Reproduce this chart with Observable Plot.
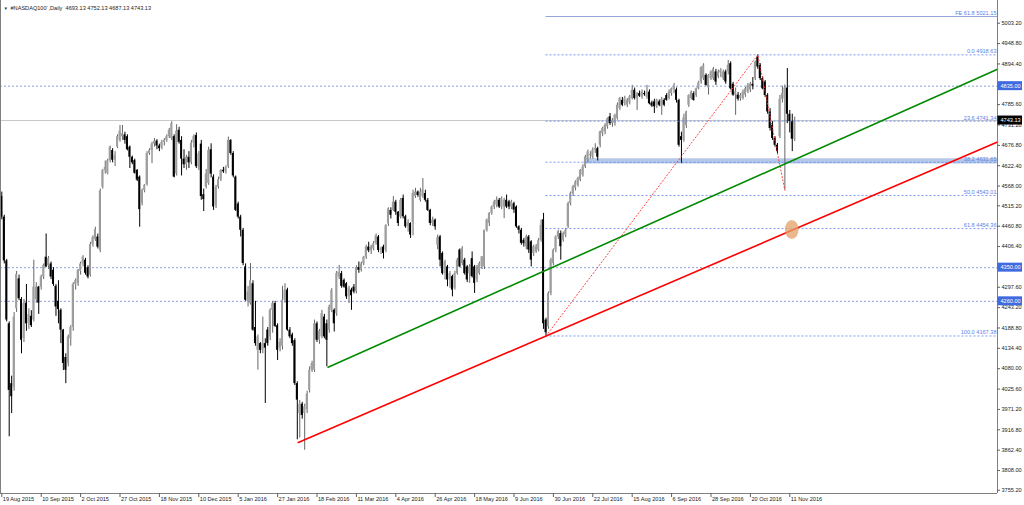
<!DOCTYPE html>
<html><head><meta charset="utf-8">
<script src="https://cdn.jsdelivr.net/npm/d3@7"></script>
<script src="https://cdn.jsdelivr.net/npm/@observablehq/plot@0.6"></script>
<style>
html,body{margin:0;padding:0;background:#fff;}
#chart{width:1024px;height:505px;overflow:hidden;}
#chart svg{font-family:"Liberation Sans",Arial,sans-serif;}
</style></head><body><div id="chart"></div>
<script>
const headerText = "#NASDAQ100`,Daily  4693.13 4752.13 4687.13 4743.13";

// Daily OHLC, one entry per bar (bar index = position)
const open = [4540,4485,4368,4200,4040,4031,4240,4320,4265,4160,4255,4200,4220,4210,4265,4298,4298,4325,4378,4355,4360,4343,4300,4260,4236,4183,4110,4094,4160,4190,4305,4307,4340,4360,4370,4350,4330,4412,4425,4432,4396,4565,4610,4602,4636,4663,4637,4672,4690,4700,4705,4700,4672,4645,4636,4610,4592,4521,4556,4572,4655,4663,4680,4688,4675,4670,4685,4690,4700,4695,4700,4600,4717,4690,4640,4625,4645,4630,4683,4703,4619,4680,4545,4565,4575,4665,4592,4515,4565,4585,4610,4606,4620,4690,4655,4592,4520,4485,4450,4352,4260,4254,4307,4190,4129,4147,4129,4147,4183,4165,4236,4254,4195,4135,4140,4263,4290,4183,4170,4155,4040,3960,3985,3960,3970,4022,4076,4076,4200,4156,4165,4218,4200,4183,4236,4236,4227,4325,4334,4316,4307,4272,4290,4298,4285,4350,4343,4360,4378,4405,4395,4400,4414,4432,4396,4405,4396,4467,4503,4503,4525,4498,4485,4535,4486,4460,4468,4470,4540,4552,4530,4540,4548,4530,4503,4468,4477,4410,4432,4388,4334,4352,4317,4326,4295,4334,4397,4361,4370,4352,4334,4374,4352,4317,4334,4352,4352,4450,4468,4495,4512,4517,4530,4512,4512,4530,4526,4512,4521,4512,4459,4450,4423,4406,4432,4419,4388,4392,4397,4423,4478,4210,4192,4281,4361,4397,4432,4441,4423,4437,4459,4521,4548,4562,4570,4584,4597,4619,4637,4650,4646,4664,4668,4677,4708,4713,4726,4753,4735,4735,4748,4775,4797,4788,4784,4790,4802,4824,4802,4815,4806,4815,4806,4819,4790,4793,4780,4793,4780,4797,4810,4802,4815,4825,4825,4797,4700,4690,4730,4784,4802,4815,4810,4828,4846,4855,4864,4830,4855,4855,4873,4860,4870,4855,4873,4873,4895,4840,4811,4811,4802,4802,4811,4819,4824,4840,4855,4912,4890,4855,4846,4810,4766,4730,4695,4677,4700,4800,4800,4830,4760,4740,4693.13];
const high = [4552,4490,4372,4205,4060,4230,4340,4330,4270,4265,4305,4240,4235,4370,4310,4300,4330,4360,4440,4380,4365,4350,4305,4315,4240,4185,4120,4170,4195,4310,4320,4345,4365,4382,4375,4355,4418,4435,4458,4440,4560,4612,4635,4640,4675,4668,4660,4705,4730,4730,4712,4705,4675,4648,4640,4612,4595,4560,4572,4660,4668,4685,4695,4692,4680,4690,4695,4705,4722,4740,4705,4732,4725,4700,4665,4650,4660,4690,4705,4710,4660,4690,4560,4612,4672,4681,4598,4570,4592,4612,4618,4622,4699,4692,4660,4595,4525,4490,4455,4360,4300,4361,4315,4260,4170,4150,4218,4160,4190,4240,4260,4260,4200,4160,4300,4307,4295,4190,4175,4160,4045,3995,3990,3985,4020,4085,4100,4210,4205,4185,4236,4225,4210,4250,4294,4240,4340,4356,4340,4320,4310,4300,4295,4305,4355,4365,4365,4380,4410,4418,4410,4420,4440,4436,4405,4410,4465,4510,4510,4540,4530,4500,4535,4544,4490,4478,4470,4557,4562,4555,4562,4588,4557,4535,4506,4485,4480,4437,4436,4392,4370,4356,4340,4330,4340,4375,4400,4406,4375,4356,4358,4392,4356,4356,4365,4380,4450,4480,4497,4515,4530,4539,4535,4539,4535,4544,4530,4530,4525,4515,4462,4455,4428,4437,4436,4422,4410,4412,4428,4477,4495,4215,4285,4375,4400,4435,4450,4448,4445,4455,4525,4552,4570,4582,4592,4612,4625,4650,4664,4660,4670,4681,4672,4715,4725,4735,4750,4762,4748,4760,4790,4805,4805,4808,4802,4810,4837,4830,4818,4822,4825,4822,4837,4825,4795,4800,4800,4798,4805,4802,4815,4825,4830,4842,4830,4800,4712,4760,4768,4812,4822,4820,4830,4848,4887,4895,4868,4866,4876,4885,4880,4878,4882,4878,4878,4904,4900,4845,4830,4818,4815,4825,4832,4842,4845,4858,4902,4918.63,4895,4860,4850,4815,4775,4740,4700,4682,4810,4835,4838,4882,4770,4760,4752.13];
const low = [4478,4360,4205,3898,3960,4020,4230,4262,4120,4150,4180,4185,4190,4205,4255,4225,4290,4318,4350,4345,4318,4300,4220,4200,4147,4075,4040,4085,4140,4180,4290,4300,4330,4352,4330,4320,4325,4405,4420,4400,4390,4560,4600,4598,4630,4630,4620,4668,4685,4690,4680,4662,4615,4625,4600,4580,4458,4515,4550,4568,4650,4628,4672,4665,4660,4665,4675,4685,4695,4690,4590,4595,4680,4595,4615,4610,4615,4625,4670,4615,4610,4530,4500,4560,4570,4590,4503,4508,4560,4580,4602,4600,4615,4650,4590,4500,4480,4432,4355,4260,4245,4250,4180,4140,4076,4120,4120,3987,4140,4155,4175,4190,4102,4125,4130,4255,4180,4160,4140,4035,3890,3895,3945,3862,3960,4015,4070,4070,4150,4145,4160,4160,4085,4175,4230,4178,4220,4318,4295,4295,4265,4254,4236,4280,4280,4335,4338,4355,4372,4390,4385,4395,4410,4390,4385,4373,4390,4460,4480,4500,4490,4460,4480,4480,4455,4445,4428,4435,4535,4538,4525,4535,4525,4500,4462,4460,4450,4398,4352,4330,4317,4299,4295,4272,4290,4330,4350,4355,4330,4310,4308,4322,4281,4310,4330,4345,4345,4445,4460,4490,4505,4510,4508,4505,4481,4508,4505,4505,4495,4455,4440,4410,4405,4398,4388,4352,4380,4388,4392,4418,4185,4167.38,4185,4275,4355,4390,4425,4370,4418,4430,4455,4515,4540,4555,4565,4580,4592,4615,4630,4640,4640,4655,4635,4670,4700,4705,4720,4730,4725,4728,4744,4770,4780,4782,4778,4785,4798,4798,4770,4805,4800,4808,4800,4785,4778,4762,4775,4780,4757,4780,4795,4798,4808,4815,4790,4672,4628,4685,4722,4778,4798,4795,4805,4825,4840,4850,4835,4811,4850,4850,4837,4855,4858,4850,4840,4865,4825,4808,4757,4795,4795,4798,4805,4815,4818,4825,4850,4880,4850,4825,4805,4760,4715,4690,4672,4655,4695,4790,4556.85,4735,4710,4660,4687.13];
const close = [4485,4368,4210,4022,4005,4218,4332,4267,4156,4255,4200,4225,4195,4298,4298,4255,4325,4356,4352,4375,4325,4305,4245,4238,4183,4094,4076,4165,4190,4305,4316,4343,4360,4378,4335,4325,4412,4430,4452,4405,4555,4610,4618,4636,4672,4637,4650,4700,4715,4708,4690,4665,4645,4630,4602,4584,4505,4556,4570,4655,4663,4680,4688,4675,4668,4685,4690,4700,4717,4735,4592,4715,4685,4640,4625,4645,4630,4683,4700,4620,4654,4540,4532,4600,4663,4600,4512,4565,4585,4610,4606,4617,4690,4655,4595,4503,4485,4450,4361,4263,4285,4315,4183,4147,4165,4129,4147,4135,4147,4236,4254,4193,4129,4150,4263,4290,4183,4165,4147,4040,3996,3985,3955,3978,4012,4076,4094,4200,4156,4180,4227,4165,4156,4245,4289,4200,4334,4338,4300,4298,4272,4295,4275,4285,4350,4343,4360,4378,4405,4395,4405,4414,4435,4396,4400,4388,4462,4507,4490,4525,4498,4468,4530,4486,4459,4470,4437,4548,4552,4543,4552,4557,4530,4503,4468,4477,4459,4430,4370,4334,4365,4317,4334,4290,4334,4370,4352,4401,4334,4317,4352,4326,4308,4352,4361,4379,4450,4477,4495,4512,4525,4530,4512,4535,4530,4512,4512,4526,4504,4459,4450,4415,4414,4432,4397,4370,4406,4406,4423,4463,4200,4176,4281,4370,4397,4432,4446,4406,4441,4450,4521,4548,4566,4579,4588,4610,4619,4646,4659,4650,4664,4668,4645,4713,4722,4730,4748,4735,4744,4757,4784,4802,4784,4802,4797,4806,4824,4802,4815,4808,4819,4812,4819,4788,4782,4780,4797,4784,4800,4784,4797,4819,4828,4832,4797,4677,4690,4750,4766,4810,4819,4797,4828,4844,4884,4890,4837,4864,4873,4881,4846,4873,4877,4873,4846,4891,4828,4811,4820,4800,4810,4819,4828,4837,4841,4835,4899,4886,4855,4828,4810,4766,4722,4695,4677,4660,4800,4815,4830,4760,4740,4693.13,4743.13];

// bottom axis: bar index of each label and its text
const xTickBars = [0,16,32,48,64,80,96,112,128,144,160,176,192,208,224,240,256,272,288,304,320];
const xTickLabels = ["19 Aug 2015","10 Sep 2015","2 Oct 2015","27 Oct 2015","18 Nov 2015","10 Dec 2015","5 Jan 2016","27 Jan 2016","18 Feb 2016","11 Mar 2016","4 Apr 2016","26 Apr 2016","18 May 2016","9 Jun 2016","30 Jun 2016","22 Jul 2016","15 Aug 2016","6 Sep 2016","28 Sep 2016","20 Oct 2016","11 Nov 2016"];
// right axis
const yTickValues = [5003.20,4948.80,4894.40,4785.60,4731.20,4676.80,4622.40,4568.00,4515.20,4460.80,4406.40,4297.60,4243.20,4188.80,4134.40,4080.00,4025.60,3971.20,3916.80,3862.40,3808.00,3755.20];

// Fibonacci retracement (from the 27 Jun low to the 25 Oct high)
const fibLevels = [0.0, 23.6, 38.2, 50.0, 61.8, 100.0];
const fibPrices = [4918.63, 4741.34, 4631.65, 4543.01, 4454.36, 4167.38];
const fibStartBar = 221;
const feLevel = 61.8, fePrice = 5021.15;
const fiboPathBars = [221, 307, 318];
const fiboPathPrices = [4167.38, 4918.63, 4556.85];

// horizontal levels and current price
const hLevels = [4835.00, 4350.00, 4260.00];
const currentPrice = 4743.13;

// trend lines: anchor bars / prices
const redBars = [120.4, 221], redPrices = [3883, 4167.38];
const greenBars = [132.5, 404.35], greenPrices = [4084, 4880];

// support zone and highlight
const zoneStartBar = 237.5, zoneLow = 4627, zoneHigh = 4641;
const markBar = 320.8, markPrice = 4452;

// ---------- build ----------
const xMin = -0.53, xMax = 404.35;
const yMin = 3746.5, yMax = 5063.9;
const bars = close.map((c, i) => ({i, o: open[i], h: high[i], l: low[i], c, up: c >= open[i]}));
const extend = (bs, ps, x) => ps[0] + (ps[1] - ps[0]) * (x - bs[0]) / (bs[1] - bs[0]);
const redLine = [{b: redBars[0], p: redPrices[0]}, {b: xMax, p: extend(redBars, redPrices, xMax)}];
const greenLine = greenBars.map((b, k) => ({b, p: greenPrices[k]}));
const fib = fibLevels.map((l, k) => ({label: `${l.toFixed(1)} ${fibPrices[k].toFixed(2)}`, p: fibPrices[k]}));
const fiboPath = fiboPathBars.map((b, k) => ({b, p: fiboPathPrices[k]}));
const xTicks = xTickBars.map((b, k) => ({b, label: xTickLabels[k]}));
const boxes = [...hLevels.map(p => ({p, fill: "#3f6ae0"})), {p: currentPrice, fill: "#000"}];
const FS = 5.6;
const blue = "#5d7fe6";
const pxY = (yMax - yMin) / 493; // price per pixel
const pxX = (xMax - xMin) / 997; // bars per pixel

const chart = Plot.plot({
  width: 1024, height: 505,
  marginLeft: 0, marginRight: 27, marginTop: 0, marginBottom: 12,
  x: {domain: [xMin, xMax], axis: null},
  y: {domain: [yMin, yMax], axis: null},
  marks: [
    Plot.ruleY([currentPrice], {stroke: "#c8c8c8", strokeWidth: 1}),
    Plot.ruleY(hLevels, {stroke: "#6f88d8", strokeDasharray: "2,2", strokeWidth: 0.8}),
    Plot.rect([0], {x1: zoneStartBar, x2: xMax, y1: zoneLow, y2: zoneHigh, fill: "#b5c8e8"}),
    Plot.ruleX(bars, {x: "i", y1: "l", y2: "h", stroke: d => d.up ? "#666" : "#000", strokeWidth: 1}),
    Plot.rect(bars, {x1: d => d.i - 0.4, x2: d => d.i + 0.4, y1: d => Math.min(d.o, d.c), y2: d => Math.max(d.o, d.c, Math.min(d.o, d.c) + pxY * 0.8), fill: d => d.up ? "#9e9e9e" : "#000"}),
    Plot.ruleY(fib, {y: "p", x1: fibStartBar, x2: xMax, stroke: blue, strokeDasharray: "2,2", strokeWidth: 0.8}),
    Plot.ruleY([fePrice], {x1: fibStartBar, x2: xMax, stroke: "#8a98d2", strokeWidth: 0.9}),
    Plot.line(fiboPath, {x: "b", y: "p", stroke: "#ff3030", strokeDasharray: "1.2,2.2", strokeWidth: 0.9}),
    Plot.line(greenLine, {x: "b", y: "p", stroke: "#008a00", strokeWidth: 1.6}),
    Plot.line(redLine, {x: "b", y: "p", stroke: "#ff0000", strokeWidth: 1.6}),
    Plot.dot([0], {x: markBar, y: markPrice, r: 8, fill: "#e2a066", fillOpacity: 0.75}),
    Plot.text(fib, {y: "p", x: xMax, text: "label", textAnchor: "end", dx: -1, dy: -3.5, fontSize: FS, fill: blue}),
    Plot.text([`FE ${feLevel.toFixed(1)} ${fePrice.toFixed(2)}`], {y: fePrice, x: xMax, textAnchor: "end", dx: -1, dy: -3.5, fontSize: FS, fill: blue}),
    // frame lines
    Plot.ruleX([xMin], {stroke: "#808080"}),
    Plot.ruleX([xMax], {stroke: "#808080"}),
    Plot.ruleY([yMin], {stroke: "#808080"}),
    // right axis
    Plot.ruleY(yTickValues, {x1: xMax, x2: xMax + 3 * pxX, stroke: "#606060"}),
    Plot.text(yTickValues, {y: d => d, x: xMax, text: d => d.toFixed(2), textAnchor: "start", dx: 4, fontSize: FS, fill: "#222"}),
    Plot.rect(boxes, {x1: xMax + 0.4 * pxX, x2: xMax + 25 * pxX, y1: d => d.p - 4.5 * pxY, y2: d => d.p + 4.5 * pxY, fill: "fill"}),
    Plot.text(boxes, {y: "p", x: xMax, text: d => d.p.toFixed(2), textAnchor: "start", dx: 3, fontSize: FS, fill: "#fff"}),
    // bottom axis
    Plot.ruleX(xTicks, {x: "b", y1: yMin, y2: yMin - 4 * pxY, stroke: "#606060"}),
    Plot.text(xTicks, {x: "b", y: yMin, text: "label", textAnchor: "start", dx: 1, dy: 5.5, fontSize: FS, fill: "#222"}),
    // header
    Plot.text(["▼"], {frameAnchor: "top-left", dx: 3, dy: 6, fontSize: 4.5, textAnchor: "start", fill: "#333"}),
    Plot.text([headerText], {frameAnchor: "top-left", dx: 10, dy: 6, fontSize: FS, textAnchor: "start", fill: "#222"})
  ]
});
// make the highlight an upright ellipse
d3.select(chart).selectAll('g[aria-label="dot"] circle').each(function() {
  const c = d3.select(this);
  let cx = +c.attr("cx"), cy = +c.attr("cy");
  if (!isFinite(cx) || !isFinite(cy) || c.attr("cx") == null) {
    const b = this.getBBox ? null : null;
    cx = cx || 0; cy = cy || 0;
  }
  c.attr("transform", `translate(${cx},${cy}) scale(0.85,1.2) translate(${-cx},${-cy})`);
});
document.getElementById("chart").appendChild(chart);
</script></body></html>
